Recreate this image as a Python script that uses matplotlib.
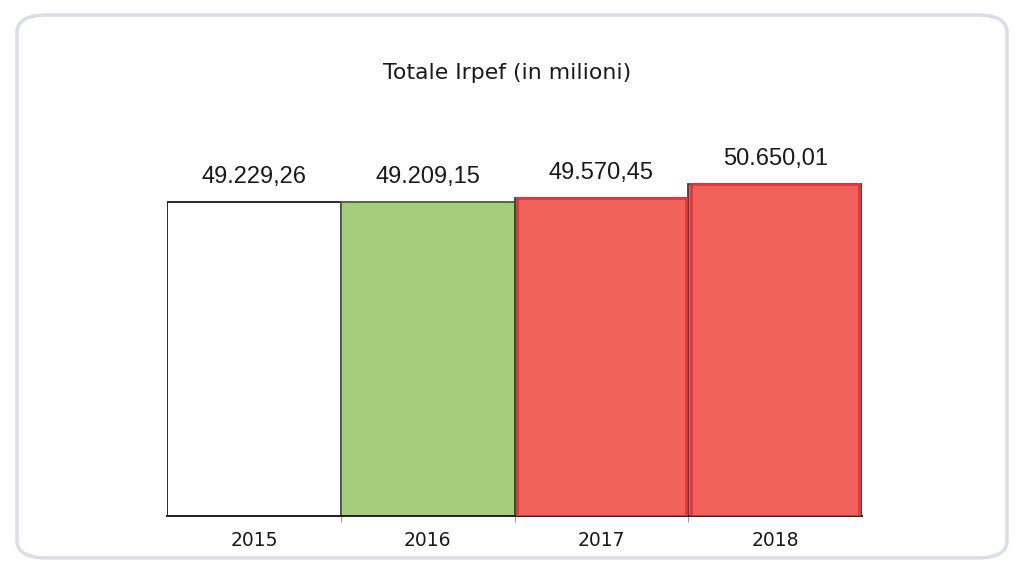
import matplotlib
matplotlib.use("Agg")
import matplotlib.pyplot as plt
from matplotlib.patches import FancyBboxPatch
import numpy as np

# Data
years = ["2015", "2016", "2017", "2018"]
totals = [49229.26, 49209.15, 49570.45, 50650.01]
labels = ["49.229,26", "49.209,15", "49.570,45", "50.650,01"]
title = "Totale Irpef (in milioni)"

face_colors = ["#ffffff", "#a5cd7b", "#f0625a", "#f0625a"]
edge_colors = ["#1a1a1a", "#4a5a40", "#2a4a3a", "#2a4a3a"]

W, H = 1017, 571
fig = plt.figure(figsize=(W / 100, H / 100), dpi=100)
fig.patch.set_facecolor("white")

# Rounded frame around the chart area
frame = FancyBboxPatch((17 / W, 1 - 558 / H), (1007 - 17) / W, (558 - 15) / H,
                       boxstyle="round,pad=0,rounding_size=0.03",
                       transform=fig.transFigure, facecolor="none",
                       edgecolor="#dcdcea", linewidth=2.5, zorder=-1)
fig.patches.append(frame)

# Plot area
left, right = 167, 862
bottom_px, top_px = 516, 100
ax = fig.add_axes([left / W, 1 - bottom_px / H, (right - left) / W, (bottom_px - top_px) / H])
ax.set_facecolor("none")
ax.set_zorder(2)

ymin = 24450
ymax = ymin + (bottom_px - top_px) * 78.9
ax.set_ylim(ymin, ymax)
ax.set_xlim(-0.5, len(years) - 0.5)

x = np.arange(len(years))
bars = ax.bar(x, [v - ymin for v in totals], bottom=ymin, width=1.0,
              color=face_colors, edgecolor=edge_colors, linewidth=1.3, zorder=2)

# Darker inner border on the red bars
for i in (2, 3):
    ax.bar(x[i], totals[i] - ymin - 60, bottom=ymin + 30, width=0.97,
           color="none", edgecolor="#e23444", linewidth=2.0, zorder=3)

for xi, v, lab in zip(x, totals, labels):
    ax.annotate(lab, (xi, v), xytext=(0, 10), textcoords="offset points",
                ha="center", va="bottom", fontsize=17,
                family="Liberation Sans", color="#1a1a1a")

for s in ("top", "right", "left"):
    ax.spines[s].set_visible(False)
ax.spines["bottom"].set_color("#222222")
ax.spines["bottom"].set_linewidth(1.4)
ax.set_yticks([])
ax.set_xticks(x)
ax.set_xticklabels(years, fontsize=13.5, family="DejaVu Sans", color="#1a1a1a")
ax.set_xticks([0.5, 1.5, 2.5], minor=True)
ax.tick_params(axis="x", which="major", length=0, pad=11)
ax.tick_params(axis="x", which="minor", length=4, color="#888888")

fig.text(507 / W, 1 - 73 / H, title, ha="center", va="center",
         fontsize=15.8, family="DejaVu Sans", color="#1a1a1a")

fig.savefig("out.png", dpi=100)
